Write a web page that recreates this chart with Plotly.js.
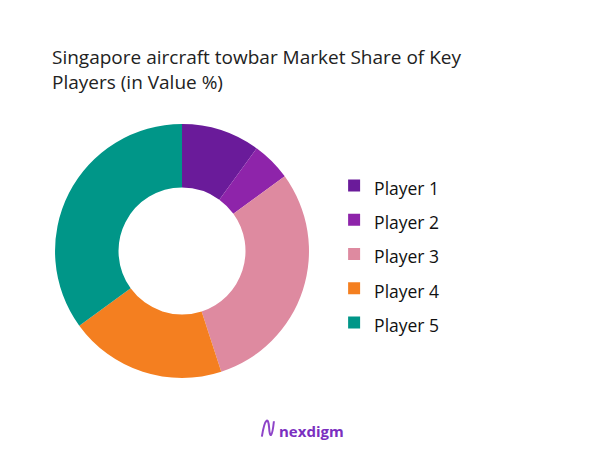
<!DOCTYPE html>
<html>
<head>
<meta charset="utf-8">
<script src="https://cdn.plot.ly/plotly-3.0.1.min.js"></script>
<style>
  html, body { margin: 0; padding: 0; background: #fff; }
  #plot { width: 602px; height: 451px; }
</style>
</head>
<body>
<div id="plot"></div>
<script>
const players = ['Player 1', 'Player 2', 'Player 3', 'Player 4', 'Player 5'];
const shares = [10, 5, 30, 20, 35];
const sliceColors = ['#6A1B9A', '#8E24AA', '#DE8AA0', '#F47F20', '#009688'];

// legend rows are taller than the text, so the label is drawn smaller than the legend font
const legendLabels = players.map(p => '<span style="font-size:17.5px">' + p + '</span>');

const trace = {
    type: 'pie',
    labels: legendLabels,
    values: shares,
    hole: 0.5,
    sort: false,
    direction: 'clockwise',
    rotation: 0,
    textinfo: 'none',
    hoverinfo: 'skip',
    marker: {
        colors: sliceColors,
        line: { color: '#ffffff', width: 0 },
    },
    domain: {
        x: [0.0914, 0.5133],
        y: [0.1619, 0.725],
    },
};

const layout = {
    width: 602,
    height: 451,
    margin: { t: 0, b: 0, l: 0, r: 0 },
    paper_bgcolor: '#ffffff',
    font: { family: 'Open Sans, sans-serif', color: '#222222' },
    title: {
        text: 'Singapore aircraft towbar Market Share of Key<br>Players (in Value %)',
        font: { size: 19, color: '#222222' },
        x: 52 / 602,
        xanchor: 'left',
        xref: 'paper',
        y: 1 - 64 / 451,
        yanchor: 'top',
        yref: 'container',
    },
    showlegend: true,
    legend: {
        x: 0.555,
        y: 1 - 254 / 451,
        xanchor: 'left',
        yanchor: 'middle',
        font: { size: 24, color: '#111111' },
        itemclick: false,
        itemdoubleclick: false,
    },
    shapes: [
        {
            type: 'path',
            xref: 'paper',
            yref: 'paper',
            path: 'M 0.435 0.032 C 0.440 0.075, 0.446 0.075, 0.447 0.052 C 0.448 0.028, 0.452 0.028, 0.455 0.066',
            line: { color: '#8E44C8', width: 2 },
        },
    ],
    annotations: [
        {
            text: '<b>nexdigm</b>',
            xref: 'paper',
            yref: 'paper',
            x: 277 / 602,
            y: 1 - 431 / 451,
            xanchor: 'left',
            yanchor: 'middle',
            showarrow: false,
            font: { size: 15, color: '#7B2FBF' },
        },
    ],
};

const config = {
    staticPlot: true,
    displayModeBar: false,
};

Plotly.newPlot('plot', [trace], layout, config);
</script>
</body>
</html>
